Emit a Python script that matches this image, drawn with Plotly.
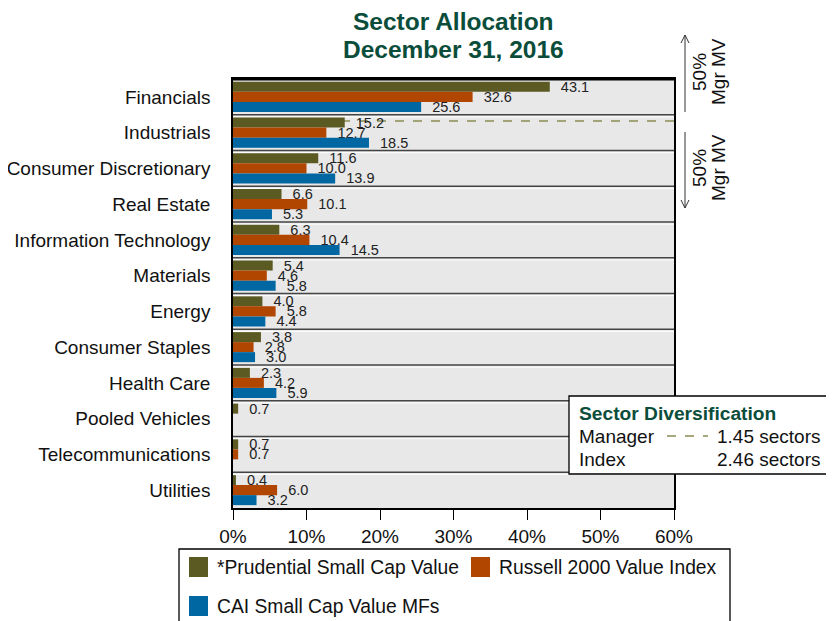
import plotly.graph_objects as go

# ---------------- data ----------------
categories = ["Financials", "Industrials", "Consumer Discretionary", "Real Estate",
              "Information Technology", "Materials", "Energy", "Consumer Staples",
              "Health Care", "Pooled Vehicles", "Telecommunications", "Utilities"]
prudential = [43.1, 15.2, 11.6, 6.6, 6.3, 5.4, 4.0, 3.8, 2.3, 0.7, 0.7, 0.4]
russell = [32.6, 12.7, 10.0, 10.1, 10.4, 4.6, 5.8, 2.8, 4.2, None, 0.7, 6.0]
cai = [25.6, 18.5, 13.9, 5.3, 14.5, 5.8, 4.4, 3.0, 5.9, None, None, 3.2]
series_names = ["*Prudential Small Cap Value", "Russell 2000 Value Index", "CAI Small Cap Value MFs"]
series_values = [prudential, russell, cai]
series_colors = ["#5b5a22", "#b04600", "#0067a3"]
x_ticks = [0, 10, 20, 30, 40, 50, 60]
div_labels = ["Manager", "Index"]
div_values = ["1.45 sectors", "2.46 sectors"]

# ---------------- layout helpers ----------------
W, H = 834, 621
OFF = 8  # page body margin
L, R, T, B = 233, 674, 79, 508
FONT = "Liberation Sans, Arial, sans-serif"
GREEN = "#0b4d3b"


def px(x):
    return (x - L) / (R - L)


def py(y):
    return (B - y) / (B - T)


fig = go.Figure()
for name, vals, col in zip(series_names, series_values, series_colors):
    fig.add_trace(go.Bar(
        y=categories, x=vals, name=name, orientation="h",
        marker=dict(color=col, line=dict(width=0)),
        text=["\u00a0\u00a0" + f"{v:.1f}" if v is not None else "" for v in vals],
        textposition="outside", cliponaxis=False, constraintext="none",
        textfont=dict(size=14.5, color="#222", family=FONT),
        showlegend=False,
    ))

shapes = []
# category separators
for k in range(len(categories) - 1):
    shapes.append(dict(type="line", xref="paper", yref="y", x0=0, x1=1, y0=k + 0.5, y1=k + 0.5,
                       line=dict(color="#444", width=1.5), layer="below"))
    shapes.append(dict(type="line", xref="paper", yref="y", x0=0, x1=1, y0=k + 0.56, y1=k + 0.56,
                       line=dict(color="#ffffff", width=1), layer="below"))
# manager 50% split line
split_pos = 0.675
shapes.append(dict(type="line", xref="x", yref="y", x0=0, x1=60, y0=split_pos, y1=split_pos,
                   line=dict(color="#8c8c55", width=1.3, dash="dash"), layer="below"))
# thick top border
shapes.append(dict(type="line", xref="paper", yref="paper", x0=0, x1=1, y0=1, y1=1,
                   line=dict(color="black", width=3)))

# right-side arrows
ax = 685
shapes.append(dict(type="line", xref="paper", yref="paper", x0=px(ax), x1=px(ax), y0=py(35), y1=py(112),
                   line=dict(color="#333", width=1)))
shapes.append(dict(type="path", xref="paper", yref="paper",
                   path=f"M {px(ax-4)},{py(43)} L {px(ax)},{py(35)} L {px(ax+4)},{py(43)}",
                   line=dict(color="#333", width=1)))
shapes.append(dict(type="line", xref="paper", yref="paper", x0=px(ax), x1=px(ax), y0=py(132), y1=py(208),
                   line=dict(color="#333", width=1)))
shapes.append(dict(type="path", xref="paper", yref="paper",
                   path=f"M {px(ax-4)},{py(200)} L {px(ax)},{py(208)} L {px(ax+4)},{py(200)}",
                   line=dict(color="#333", width=1)))

# sector diversification box
shapes.append(dict(type="rect", xref="paper", yref="paper", x0=px(569), x1=px(830), y0=py(396), y1=py(474),
                   fillcolor="white", line=dict(color="black", width=1.3), layer="above"))
shapes.append(dict(type="line", xref="paper", yref="paper", x0=px(667), x1=px(708), y0=py(436), y1=py(436),
                   line=dict(color="#8c8c55", width=1.3, dash="dash"), layer="above"))

# legend box and markers
shapes.append(dict(type="rect", xref="paper", yref="paper", x0=px(179), x1=px(730), y0=py(549), y1=py(640),
                   fillcolor="white", line=dict(color="black", width=1.3), layer="above"))
leg_pos = [(189, 567), (471, 567), (189, 606)]
for (lx, ly), col in zip(leg_pos, series_colors):
    shapes.append(dict(type="rect", xref="paper", yref="paper", x0=px(lx), x1=px(lx + 19),
                       y0=py(ly - 10), y1=py(ly + 10), fillcolor=col, line=dict(width=0), layer="above"))

annotations = []
for (lx, ly), name in zip(leg_pos, series_names):
    annotations.append(dict(xref="paper", yref="paper", x=px(lx + 26), y=py(ly), text=name,
                            xanchor="left", yanchor="middle", showarrow=False,
                            font=dict(size=19.3, color="#111", family=FONT)))

annotations.append(dict(xref="paper", yref="paper", x=px(577), y=py(413), text="<b>Sector Diversification</b>",
                        xanchor="left", yanchor="middle", showarrow=False,
                        font=dict(size=19.2, color=GREEN, family=FONT)))
for i, (lab, val) in enumerate(zip(div_labels, div_values)):
    yy = 436 + 23 * i
    annotations.append(dict(xref="paper", yref="paper", x=px(577), y=py(yy), text=lab,
                            xanchor="left", yanchor="middle", showarrow=False,
                            font=dict(size=19, color="#111", family=FONT)))
    annotations.append(dict(xref="paper", yref="paper", x=px(715), y=py(yy), text=val,
                            xanchor="left", yanchor="middle", showarrow=False,
                            font=dict(size=19, color="#111", family=FONT)))

for cy in (72, 168):
    annotations.append(dict(xref="paper", yref="paper", x=px(699), y=py(cy), text="50%",
                            textangle=-90, xanchor="center", yanchor="middle", showarrow=False,
                            font=dict(size=19, color="#111", family=FONT)))
    annotations.append(dict(xref="paper", yref="paper", x=px(718), y=py(cy), text="Mgr MV",
                            textangle=-90, xanchor="center", yanchor="middle", showarrow=False,
                            font=dict(size=19, color="#111", family=FONT)))

# title lines
annotations.append(dict(xref="paper", yref="paper", x=0.5, y=py(22), text="<b>Sector Allocation</b>",
                        xanchor="center", yanchor="middle", showarrow=False,
                        font=dict(size=24.5, color=GREEN, family=FONT)))
annotations.append(dict(xref="paper", yref="paper", x=0.5, y=py(50), text="<b>December 31, 2016</b>",
                        xanchor="center", yanchor="middle", showarrow=False,
                        font=dict(size=24.5, color=GREEN, family=FONT)))

fig.update_layout(
    width=W - OFF, height=H - OFF,
    margin=dict(l=L - OFF, r=W - R, t=T - OFF, b=H - B, pad=0, autoexpand=False),
    paper_bgcolor="white", plot_bgcolor="#e8e8e8",
    barmode="group", bargap=0.16, bargroupgap=0,
    font=dict(family=FONT, color="#111"),
    shapes=shapes, annotations=annotations,
    xaxis=dict(range=[0, 60], tickvals=x_ticks, ticktext=[f"{t}%" for t in x_ticks],
               showgrid=False, zeroline=False, showline=True, mirror=True, automargin=False,
               linecolor="black", linewidth=1.5, ticks="outside", ticklen=10,
               tickcolor="black", tickwidth=1, tickfont=dict(size=19, color="#111")),
    yaxis=dict(type="category", categoryorder="array", categoryarray=categories,
               autorange="reversed", showgrid=False, zeroline=False, showline=True, mirror=True,
               automargin=False,
               linecolor="black", linewidth=1.5, ticks="", ticklabelstandoff=17,
               tickfont=dict(size=19, color="#111")),
)

fig.write_html("out.html")
